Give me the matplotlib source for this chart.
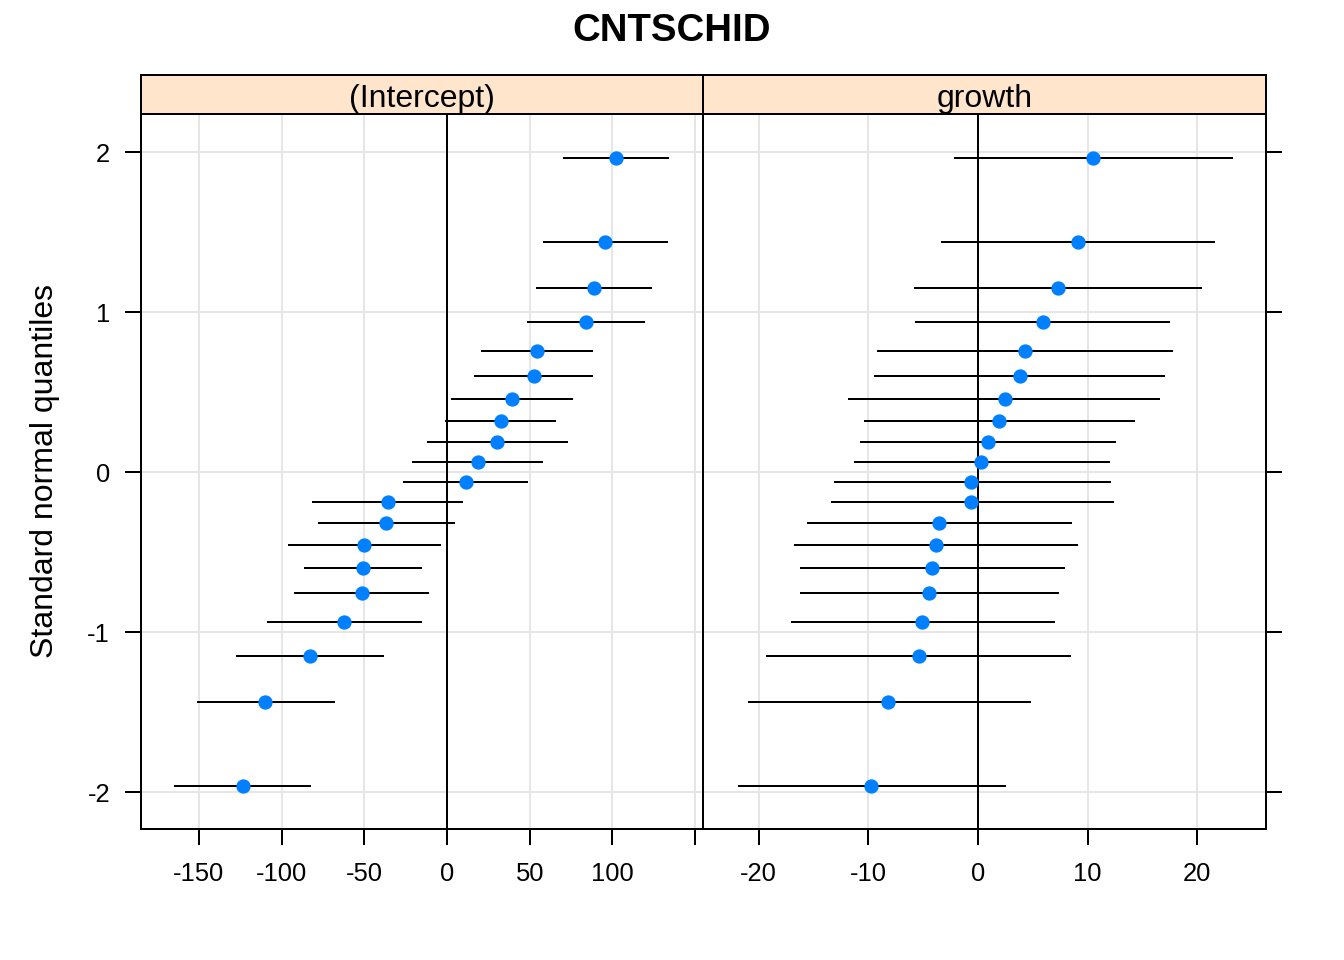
import matplotlib
matplotlib.use("Agg")
import matplotlib.pyplot as plt

plt.rcParams['font.family'] = ['Liberation Sans', 'DejaVu Sans']

# Standard normal quantiles (top to bottom)
quantiles = [1.960, 1.440, 1.150, 0.935, 0.755, 0.598, 0.454, 0.319, 0.189, 0.063,
             -0.063, -0.189, -0.319, -0.454, -0.598, -0.755, -0.935, -1.150, -1.440, -1.960]

# (Intercept) random effects, sorted descending, with interval bounds
intercept_est = [102.2, 95.4, 88.9, 83.9, 54.2, 52.3, 39.2, 32.5, 30.5, 18.5,
                 11.3, -35.9, -37.0, -49.9, -51.0, -51.6, -62.3, -82.6, -109.8, -123.5]
intercept_lo = [69.9, 57.9, 53.6, 48.1, 20.5, 16.1, 2.2, -0.9, -12.2, -21.4,
                -26.6, -81.7, -78.0, -96.3, -86.7, -92.2, -108.9, -127.2, -151.2, -164.7]
intercept_hi = [134.2, 133.6, 124.0, 119.6, 88.2, 88.2, 76.3, 65.8, 73.2, 58.0,
                49.0, 9.6, 4.8, -3.7, -15.0, -10.9, -15.0, -38.1, -67.8, -82.1]

# growth random effects, sorted descending, with interval bounds
growth_est = [10.47, 9.09, 7.26, 5.91, 4.26, 3.82, 2.43, 1.89, 0.88, 0.30,
              -0.61, -0.61, -3.58, -3.85, -4.16, -4.43, -5.07, -5.41, -8.18, -9.73]
growth_lo = [-2.20, -3.41, -5.88, -5.71, -9.22, -9.53, -11.82, -10.44, -10.81, -11.35,
             -13.18, -13.45, -15.64, -16.76, -16.22, -16.28, -17.03, -19.32, -21.01, -21.86]
growth_hi = [23.28, 21.62, 20.44, 17.53, 17.80, 17.06, 16.62, 14.32, 12.60, 12.03,
             12.13, 12.40, 8.58, 9.12, 7.94, 7.40, 7.03, 8.48, 4.83, 2.53]

panel_titles = ["(Intercept)", "growth"]
title = "CNTSCHID"
ylabel = "Standard normal quantiles"
y_ticks = [-2, -1, 0, 1, 2]
x_ticks_left = [-150, -100, -50, 0, 50, 100, 150]
x_labels_left = ["-150", "-100", "-50", "0", "50", "100", ""]
x_ticks_right = [-20, -10, 0, 10, 20]
x_labels_right = ["-20", "-10", "0", "10", "20"]

W, H = 1344, 960
fig = plt.figure(figsize=(W / 100, H / 100), dpi=100)

LW = 1.44
TICKFS = 18.4
GRID = "#E6E6E6"
PTCOL = "#0080FF"
STRIP = "#FFE5CC"

def fx(px):
    return px / W

def fy(py):
    return 1 - py / H

panel_top, panel_bot = 114, 829
strip_top = 75
panels = [
    (141, 703, intercept_est, intercept_lo, intercept_hi, (-184.9, 154.7), x_ticks_left, x_labels_left),
    (703, 1266, growth_est, growth_lo, growth_hi, (-25.09, 26.28), x_ticks_right, x_labels_right),
]

for i, (x0, x1, est, lo, hi, xlim, xt, xl) in enumerate(panels):
    ax = fig.add_axes([fx(x0), fy(panel_bot), fx(x1 - x0), (panel_bot - panel_top) / H])
    ax.set_xlim(*xlim)
    ax.set_ylim(-2.231, 2.2375)
    for t in xt:
        ax.axvline(t, color=GRID, lw=LW, zorder=0)
    for t in y_ticks:
        ax.axhline(t, color=GRID, lw=LW, zorder=0)
    ax.axvline(0, color="black", lw=LW, zorder=1)
    ax.hlines(quantiles, lo, hi, color="black", lw=LW, zorder=2)
    ax.plot(est, quantiles, "o", color=PTCOL, ms=9.3, mec=PTCOL, zorder=3)
    ax.set_xticks(xt)
    ax.set_xticklabels(xl)
    ax.set_yticks(y_ticks)
    ax.set_yticklabels([str(v) for v in y_ticks])
    for s in ax.spines.values():
        s.set_linewidth(LW)
    ax.tick_params(direction="out", length=11.3, width=LW, labelsize=TICKFS)
    ax.tick_params(axis="x", top=False, pad=12.5)
    if i == 0:
        ax.tick_params(axis="y", left=True, right=False, labelleft=True, labelright=False, pad=11)
        ax.set_ylabel(ylabel, fontsize=23, va="center")
        ax.yaxis.set_label_coords((45 - x0) / (x1 - x0), 0.5)
    else:
        ax.tick_params(axis="y", left=False, right=True, labelleft=False, labelright=False)

    sax = fig.add_axes([fx(x0), fy(panel_top), fx(x1 - x0), (panel_top - strip_top) / H])
    sax.set_facecolor(STRIP)
    sax.set_xticks([])
    sax.set_yticks([])
    for s in sax.spines.values():
        s.set_linewidth(LW)
    sax.text(0.5, (panel_top - 106.5) / (panel_top - strip_top), panel_titles[i],
             ha="center", va="baseline", fontsize=23, transform=sax.transAxes)

fig.text(0.5, fy(41), title, ha="center", va="baseline", fontsize=27.6, fontweight="bold")

fig.savefig("out.png", dpi=100)
